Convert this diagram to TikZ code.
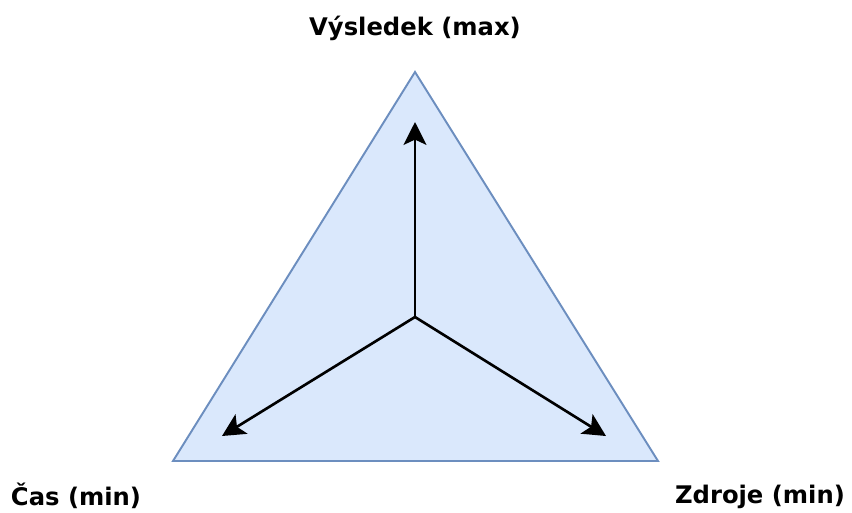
\documentclass[tikz,border=0pt]{standalone}
\usepackage{fontspec}
\setmainfont{DejaVu Sans}
\usepackage{xcolor}
\usepackage{tikz}
\usetikzlibrary{shapes,arrows.meta,positioning,calc}

\definecolor{trifill}{HTML}{DAE8FC}
\definecolor{triline}{HTML}{6C8EBF}

\begin{document}
\begin{tikzpicture}[x=0.02cm, y=-0.02cm,
    label/.style={font=\bfseries\fontsize{13.8}{16}\selectfont, inner sep=0pt},
    axis/.style={-{Stealth[length=13pt, width=13pt, inset=3pt]}, line width=1.5pt}]
    \useasboundingbox (0,0) rectangle (852,512);
    \coordinate (top) at (415,72);
    \coordinate (left) at (173,461);
    \coordinate (right) at (658,461);
    \coordinate (mid) at (415,317);
    \coordinate (toptip) at (415,122);
    \coordinate (lefttip) at (222,436);
    \coordinate (righttip) at (606,436);

    \draw[fill=trifill, draw=triline, line width=1.1pt] (top) -- (left) -- (right) -- cycle;

    \draw[axis] (mid) -- (toptip);
    \draw[axis] (mid) -- (lefttip);
    \draw[axis] (mid) -- (righttip);

    \node[label] (result) at (415,28) {Výsledek (max)};
    \node[label] (time) at (76,496) {Čas (min)};
    \node[label] (resources) at (760,497) {Zdroje (min)};
\end{tikzpicture}
\end{document}
